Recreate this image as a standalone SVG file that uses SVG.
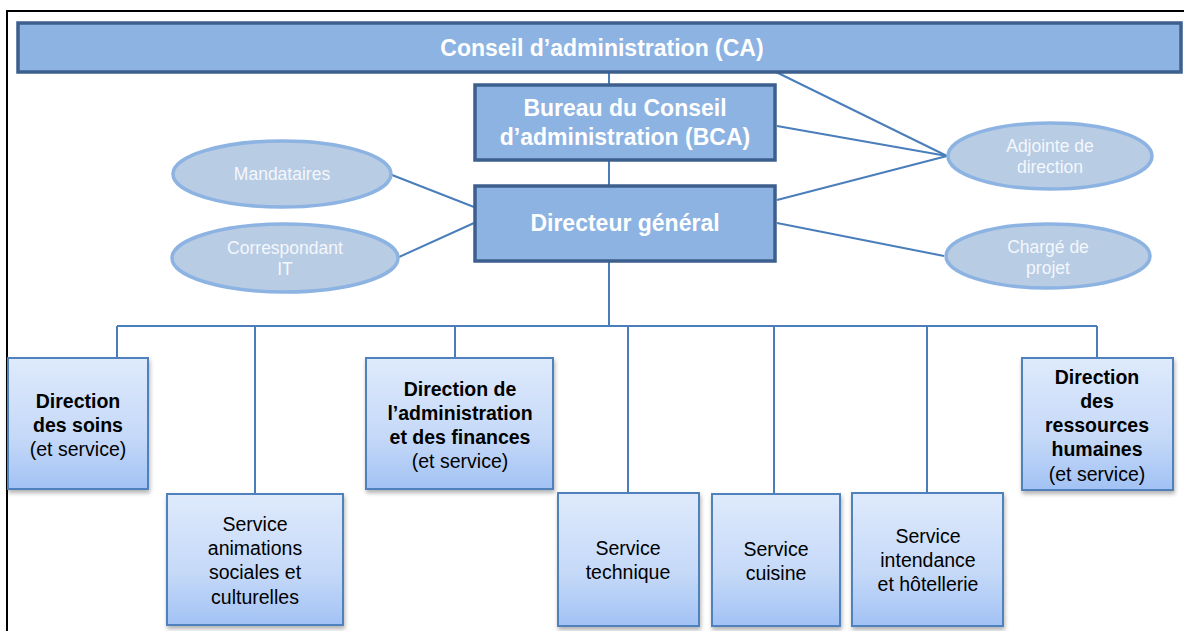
<svg xmlns="http://www.w3.org/2000/svg" width="1184" height="631" viewBox="0 0 1184 631">
<defs>
<linearGradient id="boxGrad" x1="0" y1="0" x2="0" y2="1">
<stop offset="0" stop-color="#DFEAFC"/>
<stop offset="0.6" stop-color="#C5D9F8"/>
<stop offset="1" stop-color="#A2C2F4"/>
</linearGradient>
<filter id="shadow" x="-10%" y="-10%" width="125%" height="125%">
<feDropShadow dx="1" dy="3" stdDeviation="2" flood-color="#000" flood-opacity="0.3"/>
</filter>
</defs>
<style>
.top{fill:#8DB3E2;stroke:#3C5F8E;stroke-width:3.5}
.ell{fill:#B8CCE4;stroke:#8DB3E2;stroke-width:3.5}
.box{fill:url(#boxGrad);stroke:#4F81BD;stroke-width:2;filter:url(#shadow)}
.conn{stroke:#4A7EBB;stroke-width:2;fill:none}
.tw{font-family:"Liberation Sans",Arial,sans-serif;font-weight:bold;fill:#fff;text-anchor:middle;font-size:23px}
.te{font-family:"Liberation Sans",Arial,sans-serif;fill:#F4F7FC;text-anchor:middle;font-size:17.5px}
.tb{font-family:"Liberation Sans",Arial,sans-serif;fill:#000;text-anchor:middle;font-size:19.5px}
.b{font-weight:bold}
</style>
<rect width="1184" height="631" fill="#fff"/>
<path d="M7 631 V11 H1184" stroke="#000" stroke-width="2" fill="none"/>

<g id="connectors">
<line class="conn" x1="609" y1="72" x2="609" y2="84"/>
<line class="conn" x1="609" y1="161" x2="609" y2="185"/>
<line class="conn" x1="609" y1="262" x2="609" y2="326"/>
<line class="conn" x1="117" y1="326" x2="1097" y2="326"/>
<line class="conn" x1="117" y1="326" x2="117" y2="358"/>
<line class="conn" x1="255" y1="326" x2="255" y2="494"/>
<line class="conn" x1="455" y1="326" x2="455" y2="358"/>
<line class="conn" x1="628" y1="326" x2="628" y2="493"/>
<line class="conn" x1="774" y1="326" x2="774" y2="494"/>
<line class="conn" x1="927" y1="326" x2="927" y2="493"/>
<line class="conn" x1="1097" y1="326" x2="1097" y2="358"/>
<line class="conn" x1="392" y1="175" x2="474" y2="207"/>
<line class="conn" x1="399" y1="257" x2="474" y2="223"/>
<line class="conn" x1="776" y1="72" x2="947" y2="156"/>
<line class="conn" x1="777" y1="126" x2="947" y2="156"/>
<line class="conn" x1="777" y1="200" x2="947" y2="156"/>
<line class="conn" x1="777" y1="223" x2="944" y2="256"/>
</g>

<g id="ca">
<rect class="top" x="18" y="23" width="1163" height="49"/>
<text class="tw" x="602" y="56" font-size="22">Conseil d’administration (CA)</text>
</g>
<g id="bca">
<rect class="top" x="475" y="85" width="300" height="75"/>
<text class="tw" x="625" y="116">Bureau du Conseil</text>
<text class="tw" x="625" y="145">d’administration (BCA)</text>
</g>
<g id="dg">
<rect class="top" x="475" y="186" width="300" height="75"/>
<text class="tw" x="625" y="231">Directeur général</text>
</g>

<g id="mandataires">
<ellipse class="ell" cx="282" cy="174" rx="109" ry="33"/>
<text class="te" x="282" y="180">Mandataires</text>
</g>
<g id="correspondant">
<ellipse class="ell" cx="285" cy="258" rx="113" ry="34"/>
<text class="te" x="285" y="254">Correspondant</text>
<text class="te" x="285" y="275">IT</text>
</g>
<g id="adjointe">
<ellipse class="ell" cx="1050" cy="156" rx="102" ry="33"/>
<text class="te" x="1050" y="152">Adjointe de</text>
<text class="te" x="1050" y="173">direction</text>
</g>
<g id="charge">
<ellipse class="ell" cx="1048" cy="256" rx="102" ry="32"/>
<text class="te" x="1048" y="253">Chargé de</text>
<text class="te" x="1048" y="274">projet</text>
</g>

<g id="soins">
<rect class="box" x="8" y="358" width="140" height="131"/>
<text class="tb b" x="78" y="408">Direction</text>
<text class="tb b" x="78" y="432">des soins</text>
<text class="tb" x="78" y="456">(et service)</text>
</g>
<g id="animations">
<rect class="box" x="167" y="494" width="176" height="131"/>
<text class="tb" x="255" y="531">Service</text>
<text class="tb" x="255" y="555">animations</text>
<text class="tb" x="255" y="579">sociales et</text>
<text class="tb" x="255" y="604">culturelles</text>
</g>
<g id="daf">
<rect class="box" x="366" y="358" width="187" height="131"/>
<text class="tb b" x="460" y="396">Direction de</text>
<text class="tb b" x="460" y="420">l’administration</text>
<text class="tb b" x="460" y="444">et des finances</text>
<text class="tb" x="460" y="468">(et service)</text>
</g>
<g id="technique">
<rect class="box" x="558" y="493" width="141" height="133"/>
<text class="tb" x="628" y="555">Service</text>
<text class="tb" x="628" y="579">technique</text>
</g>
<g id="cuisine">
<rect class="box" x="712" y="494" width="128" height="132"/>
<text class="tb" x="776" y="556">Service</text>
<text class="tb" x="776" y="580">cuisine</text>
</g>
<g id="intendance">
<rect class="box" x="852" y="493" width="151" height="133"/>
<text class="tb" x="928" y="543">Service</text>
<text class="tb" x="928" y="567">intendance</text>
<text class="tb" x="928" y="591">et hôtellerie</text>
</g>
<g id="rh">
<rect class="box" x="1022" y="358" width="151" height="132"/>
<text class="tb b" x="1097" y="384">Direction</text>
<text class="tb b" x="1097" y="408">des</text>
<text class="tb b" x="1097" y="432">ressources</text>
<text class="tb b" x="1097" y="456">humaines</text>
<text class="tb" x="1097" y="481">(et service)</text>
</g>
</svg>
